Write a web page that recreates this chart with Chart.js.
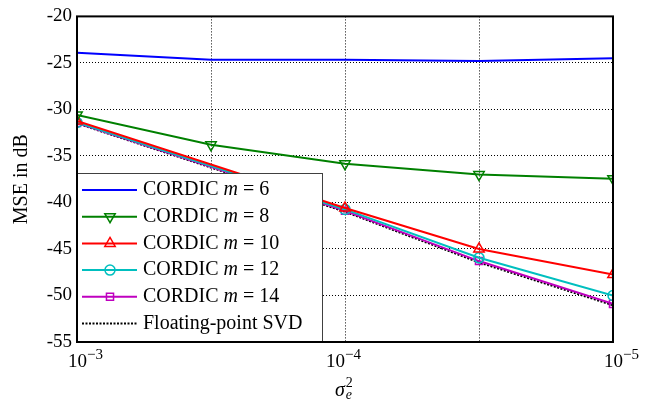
<!DOCTYPE html>
<html>
<head>
<meta charset="utf-8">
<script src="https://cdn.jsdelivr.net/npm/chart.js@4.4.0/dist/chart.umd.min.js"></script>
<style>
    html, body { margin: 0; padding: 0; background: #fff; }
    #wrap { width: 665px; height: 399px; }
</style>
</head>
<body>
<div id="wrap"><canvas id="mseChart"></canvas></div>
<script>
// x values (sigma_e^2), reversed log axis
const sigmaE2 = [1e-3, 3.162e-4, 1e-4, 3.162e-5, 1e-5];
const xTickExp = ['-3', '', '-4', '', '-5'];
const yTicks = [-55, -50, -45, -40, -35, -30, -25, -20];
const mValues = [6, 8, 10, 12, 14];

// MSE in dB
const mse6 = [-23.9, -24.65, -24.65, -24.8, -24.5];
const mse8 = [-30.6, -33.8, -35.85, -37.0, -37.45];
const mse10 = [-31.25, null, -40.6, -45.0, -47.75];
const mse12 = [-31.4, null, -40.75, -45.95, -50.0];
const mse14 = [-31.45, null, -40.9, -46.3, -50.9];
const mseFloat = [-31.5, null, -41.0, -46.45, -51.05];

const SERIF = '"Liberation Serif", "Times New Roman", serif';

function pts(arr) {
    return sigmaE2.map((x, i) => ({ x: x, y: arr[i] }));
}

function series(label, arr, color, style, rotation) {
    return {
        label: label,
        data: pts(arr),
        borderColor: color,
        borderWidth: 2,
        pointStyle: style || 'circle',
        pointRotation: rotation || 0,
        pointRadius: style ? 6 : 0,
        pointBorderWidth: 1.5,
        pointBorderColor: color,
        pointBackgroundColor: 'rgba(0,0,0,0)',
        tension: 0,
        spanGaps: true
    };
}

const datasets = [
    series('CORDIC m = ' + mValues[0], mse6, '#0000ff'),
    series('CORDIC m = ' + mValues[1], mse8, '#008000', 'triangle', 180),
    series('CORDIC m = ' + mValues[2], mse10, '#ff0000', 'triangle'),
    series('CORDIC m = ' + mValues[3], mse12, '#00bfbf', 'circle'),
    series('CORDIC m = ' + mValues[4], mse14, '#bf00bf', 'rect'),
    Object.assign(series('Floating-point SVD', mseFloat, '#000000'), { borderDash: [2, 1.5] })
];
datasets[3].pointRadius = 5;
datasets[4].pointRadius = 5;

// draws pieces of text one after another, each with its own font
function drawRun(ctx, parts, x, y) {
    parts.forEach(p => {
        ctx.font = p.f;
        ctx.fillText(p.t, x, y + (p.dy || 0));
        x += ctx.measureText(p.t).width;
    });
}

const textPlugin = {
    id: 'textPlugin',
    afterDatasetsDraw(chart) {
        const ctx = chart.ctx;
        const area = chart.chartArea;
        const xs = chart.scales.x;

        // legend box
        const lx = area.left, ly = 173, lw = 246, lh = area.bottom - 173;
        ctx.save();
        ctx.fillStyle = '#fff';
        ctx.fillRect(lx, ly, lw, lh);
        ctx.strokeStyle = '#404040';
        ctx.lineWidth = 1;
        ctx.strokeRect(lx + 0.5, ly + 0.5, lw - 1, lh - 1);
        const normal = '20px ' + SERIF;
        const italic = 'italic 20px ' + SERIF;
        chart.data.datasets.forEach((ds, i) => {
            const cy = ly + 17 + i * 26.7;
            ctx.strokeStyle = ds.borderColor;
            ctx.lineWidth = ds.borderWidth;
            ctx.setLineDash(ds.borderDash || []);
            ctx.beginPath();
            ctx.moveTo(lx + 5, cy);
            ctx.lineTo(lx + 60, cy);
            ctx.stroke();
            ctx.setLineDash([]);
            if (ds.pointRadius > 0) {
                ctx.lineWidth = ds.pointBorderWidth;
                ctx.fillStyle = 'rgba(0,0,0,0)';
                Chart.helpers.drawPoint(ctx, {
                    pointStyle: ds.pointStyle,
                    rotation: ds.pointRotation,
                    radius: ds.pointRadius,
                    borderWidth: ds.pointBorderWidth
                }, lx + 33, cy);
            }
            ctx.fillStyle = '#000';
            ctx.textBaseline = 'middle';
            ctx.textAlign = 'left';
            if (ds.label.indexOf('CORDIC') === 0) {
                const m = ds.label.split('= ')[1];
                drawRun(ctx, [
                    { t: 'CORDIC ', f: normal },
                    { t: 'm', f: italic },
                    { t: ' = ' + m, f: normal }
                ], lx + 66, cy);
            } else {
                drawRun(ctx, [{ t: ds.label, f: normal }], lx + 66, cy);
            }
        });

        // x tick labels 10^-n
        ctx.fillStyle = '#000';
        ctx.textBaseline = 'alphabetic';
        sigmaE2.forEach((v, i) => {
            if (!xTickExp[i]) return;
            const px = xs.getPixelForValue(v);
            const off = (i === 0 || i === sigmaE2.length - 1) ? 9 : 19;
            drawRun(ctx, [
                { t: '10', f: '19px ' + SERIF },
                { t: '\u2212' + xTickExp[i].slice(1), f: '15px ' + SERIF, dy: -8 }
            ], px - off, 367);
        });

        // x axis title sigma_e^2
        ctx.font = 'italic 20px ' + SERIF;
        const sx = (area.left + area.right) / 2 - 10;
        ctx.fillText('\u03c3', sx, 396);
        const sw = ctx.measureText('\u03c3').width;
        ctx.font = '14px ' + SERIF;
        ctx.fillText('2', sx + sw + 1, 387);
        ctx.font = 'italic 14px ' + SERIF;
        ctx.fillText('e', sx + sw + 1, 399);

        // y axis title
        ctx.translate(22, (area.top + area.bottom) / 2);
        ctx.rotate(-Math.PI / 2);
        ctx.font = '20px ' + SERIF;
        ctx.textAlign = 'center';
        ctx.textBaseline = 'middle';
        ctx.fillText('MSE in dB', 0, 0);
        ctx.restore();
    },
    afterDraw(chart) {
        const ctx = chart.ctx;
        const a = chart.chartArea;
        ctx.save();
        ctx.strokeStyle = '#000';
        ctx.lineWidth = 2;
        ctx.strokeRect(a.left, a.top, a.right - a.left, a.bottom - a.top);
        ctx.restore();
    }
};

new Chart(document.getElementById('mseChart'), {
    type: 'line',
    data: { datasets: datasets },
    plugins: [textPlugin],
    options: {
        responsive: true,
        maintainAspectRatio: false,
        animation: false,
        layout: { padding: { top: 14, right: 52, left: 0, bottom: 0 } },
        plugins: {
            legend: { display: false },
            tooltip: { enabled: false }
        },
        scales: {
            x: {
                type: 'logarithmic',
                reverse: true,
                min: 1e-5,
                max: 1e-3,
                afterBuildTicks: function(scale) {
                    scale.ticks = sigmaE2.map(v => ({ value: v }));
                },
                afterFit: function(scale) { scale.height = 57; },
                ticks: { display: false },
                grid: { color: '#000', lineWidth: 1, drawTicks: false },
                border: { display: false, dash: [1, 2] }
            },
            y: {
                min: -55,
                max: -20,
                afterBuildTicks: function(scale) {
                    scale.ticks = yTicks.map(v => ({ value: v }));
                },
                afterFit: function(scale) { scale.width = 77; },
                ticks: {
                    color: '#000',
                    padding: 5,
                    font: { family: SERIF, size: 19 }
                },
                grid: { color: '#000', lineWidth: 1, drawTicks: false },
                border: { display: false, dash: [1, 2] }
            }
        }
    }
});
</script>
</body>
</html>
